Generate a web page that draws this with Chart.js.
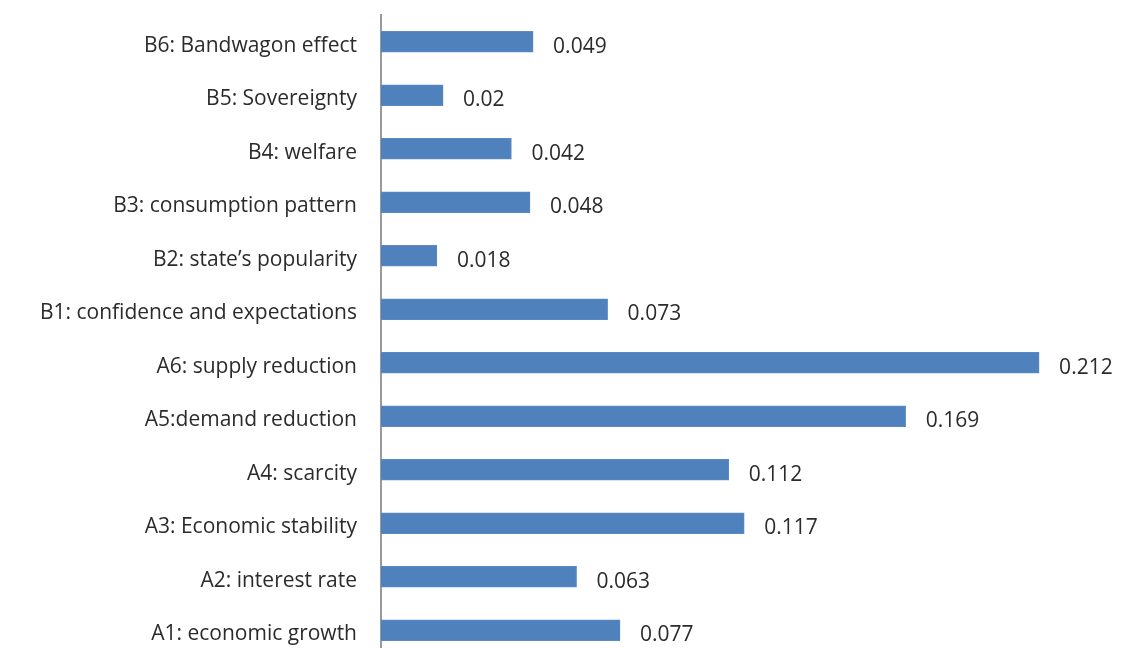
<!DOCTYPE html>
<html>
<head>
<meta charset="utf-8">
<script src="https://cdn.jsdelivr.net/npm/chart.js@4"></script>
<style>
  html, body { margin: 0; padding: 0; background: #fff; overflow: hidden; }
</style>
</head>
<body>
<canvas id="weights" width="1121" height="660"></canvas>
<script>
// factor names, top to bottom
var factorLabels = [
  'B6: Bandwagon effect',
  'B5: Sovereignty',
  'B4: welfare',
  'B3: consumption pattern',
  'B2: state\u2019s popularity',
  'B1: confidence and expectations',
  'A6: supply reduction',
  'A5:demand reduction',
  'A4: scarcity',
  'A3: Economic stability',
  'A2: interest rate',
  'A1: economic growth'
];

// weight of each factor
var factorWeights = [0.049, 0.02, 0.042, 0.048, 0.018, 0.073, 0.212, 0.169, 0.112, 0.117, 0.063, 0.077];

var fontFamily = '"Open Sans", Lato, sans-serif';

var ctx = document.getElementById('weights');

// writes the weight to the right of each bar
var valueLabels = {
  id: 'valueLabels',
  afterDatasetsDraw: function (chart) {
    var c = chart.ctx;
    var meta = chart.getDatasetMeta(0);
    c.save();
    c.font = '21px ' + fontFamily;
    c.fillStyle = '#2b2b2b';
    c.textAlign = 'left';
    c.textBaseline = 'middle';
    meta.data.forEach(function (bar, i) {
      c.fillText(String(factorWeights[i]), bar.x + 20, bar.y + 5);
    });
    c.restore();
  }
};

new Chart(ctx, {
  type: 'bar',
  data: {
    labels: factorLabels,
    datasets: [{
      data: factorWeights,
      backgroundColor: '#4F81BD',
      borderColor: '#5a8ac4',
      borderWidth: 1,
      barThickness: 21
    }]
  },
  options: {
    indexAxis: 'y',
    responsive: false,
    animation: false,
    layout: {
      padding: { top: 15, bottom: 3, left: 0, right: 26 }
    },
    plugins: {
      legend: { display: false },
      tooltip: { enabled: false }
    },
    scales: {
      x: {
        display: false,
        min: 0,
        max: 0.23
      },
      y: {
        afterFit: function (scale) {
          scale.width = 381;
          // keep label padding from shrinking the plot area
          scale.paddingTop = 0;
          scale.paddingBottom = 0;
        },
        grid: { display: false, drawTicks: false },
        border: { display: true, color: '#999', width: 2 },
        ticks: {
          padding: 24,
          labelOffset: 4,
          color: '#2b2b2b',
          font: { family: fontFamily, size: 21 }
        }
      }
    }
  },
  plugins: [valueLabels]
});
</script>
</body>
</html>
